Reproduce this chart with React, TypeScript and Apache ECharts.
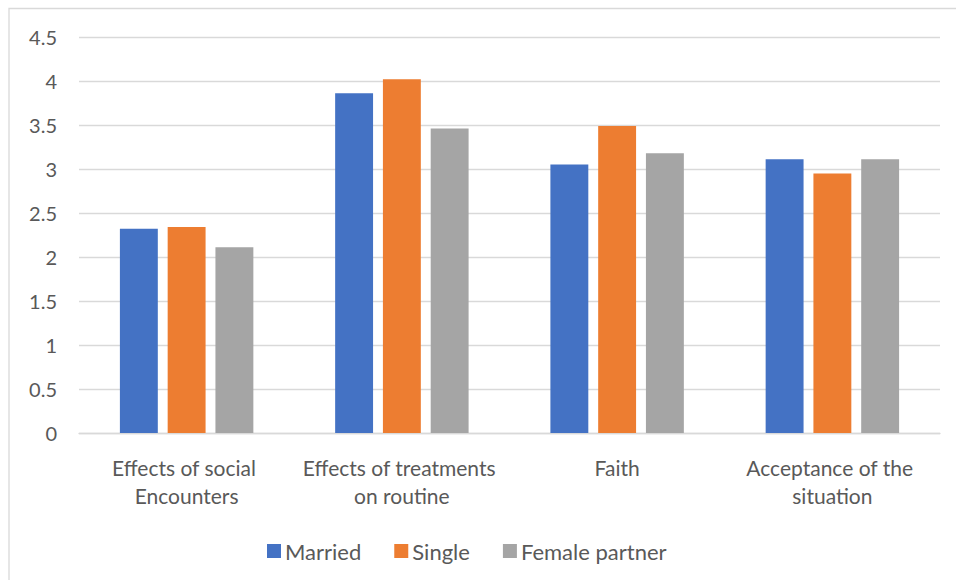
import React, { useEffect, useRef } from "react";
import * as echarts from "echarts";

const categories = [
  "Effects of social Encounters",
  "Effects of treatments on routine",
  "Faith",
  "Acceptance of the situation",
];
const seriesNames = ["Married", "Single", "Female partner"];
const married = [2.32, 3.86, 3.05, 3.11];
const single = [2.34, 4.02, 3.49, 2.95];
const femalePartner = [2.11, 3.46, 3.18, 3.11];
const colors = ["#4472C4", "#ED7D31", "#A5A5A5"];

const FONT = "Lato";
const TEXT = "#595959";

export default function App() {
  const ref = useRef<HTMLDivElement>(null);

  useEffect(() => {
    if (!ref.current) return;
    const chart = echarts.init(ref.current, undefined, { renderer: "svg" });
    const values = [married, single, femalePartner];
    chart.setOption({
      animation: false,
      backgroundColor: "#ffffff",
      color: colors,
      textStyle: { fontFamily: FONT },
      graphic: [
        {
          type: "rect",
          shape: { x: 9, y: 8.5, width: 1200, height: 1200 },
          style: { fill: "none", stroke: "#D9D9D9", lineWidth: 1.3 },
          silent: true,
        },
      ],
      grid: { left: 79, right: 16, top: 37, bottom: 147 },
      legend: {
        left: 267,
        top: 540,
        padding: 0,
        itemWidth: 14,
        itemHeight: 14,
        itemGap: 33,
        icon: "rect",
        textStyle: { color: TEXT, fontSize: 22, fontFamily: FONT, padding: [0, 0, 0, -1] },
        data: seriesNames,
      },
      xAxis: {
        type: "category",
        data: categories,
        axisLine: { lineStyle: { color: "#D9D9D9", width: 1.3 } },
        axisTick: { show: false },
        axisLabel: {
          color: TEXT,
          fontSize: 21,
          fontFamily: FONT,
          lineHeight: 28,
          margin: 20,
          width: 214,
          overflow: "break",
          interval: 0,
        },
      },
      yAxis: {
        type: "value",
        min: 0,
        max: 4.5,
        interval: 0.5,
        axisLine: { show: false },
        axisTick: { show: false },
        splitLine: { lineStyle: { color: "#D9D9D9", width: 1.3 } },
        axisLabel: { color: TEXT, fontSize: 20, fontFamily: FONT, margin: 22 },
      },
      series: seriesNames.map((name, i) => ({
        name,
        type: "bar",
        data: values[i],
        barGap: "26%",
        barCategoryGap: "38%",
        itemStyle: { color: colors[i] },
      })),
    });
    return () => chart.dispose();
  }, []);

  return (
    <div
      ref={ref}
      style={{ position: "fixed", left: 0, top: 0, width: 956, height: 580 }}
    />
  );
}
